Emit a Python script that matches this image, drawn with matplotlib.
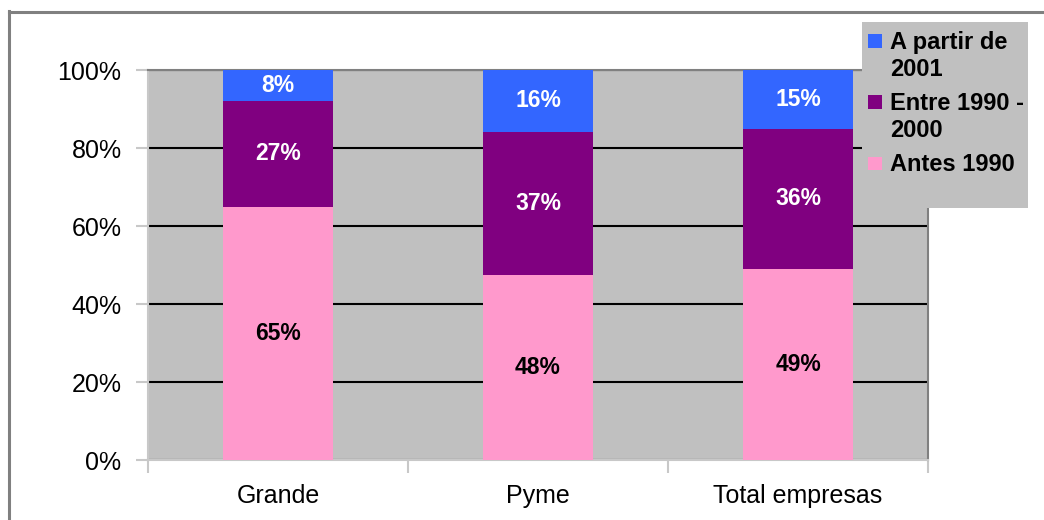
#!/usr/bin/env python
""" Antigüedad de las empresas por tamaño - barras apiladas al 100% """
import matplotlib.pyplot as plt
import numpy as np
from matplotlib.lines import Line2D
from matplotlib.patches import Rectangle

plt.rcParams["font.family"] = ["Liberation Sans", "DejaVu Sans"]

categories = ["Grande", "Pyme", "Total empresas"]
series_names = ["Antes 1990", "Entre 1990 -\n2000", "A partir de\n2001"]
antes_1990 = [65, 48, 49]
entre_1990_2000 = [27, 37, 36]
desde_2001 = [8, 16, 15]

colors = ["#FF99CC", "#800080", "#3366FF"]
label_colors = ["black", "white", "white"]
y_ticks = [0, 20, 40, 60, 80, 100]

W, H = 1044, 520


def px(x: float, y: float) -> tuple[float, float]:
    """pixel (desde arriba a la izquierda) -> coordenadas de figura"""
    return x / W, 1 - y / H


def main() -> None:
    fig = plt.figure(figsize=(W / 100, H / 100), dpi=100)
    ax = fig.add_axes([148 / W, 60 / H, 780 / W, 390 / H])
    ax.set_facecolor("#C0C0C0")

    values = np.array([antes_1990, entre_1990_2000, desde_2001], dtype=float)
    shares = values / values.sum(axis=0)  # Excel normaliza cada columna al 100%
    x = np.arange(len(categories))

    bottom = np.zeros(len(categories))
    for row, share, color, tcolor in zip(values, shares, colors, label_colors):
        ax.bar(x, share, width=0.42, bottom=bottom, color=color, zorder=3)
        for xi, b, s, v in zip(x, bottom, share, row):
            ax.text(xi, b + s / 2, f"{v:.0f}%", ha="center", va="center",
                    fontsize=16.5, fontweight="bold", color=tcolor, zorder=4)
        bottom += share

    ax.set_xlim(-0.5, len(categories) - 0.5)
    ax.set_ylim(0, 1)
    ax.set_yticks([t / 100 for t in y_ticks])
    ax.set_yticklabels([f"{t}%" for t in y_ticks], fontsize=18)
    ax.yaxis.grid(True, color="black", linewidth=1.5, zorder=1)
    ax.set_axisbelow(True)

    ax.set_xticks(x)
    ax.set_xticklabels(categories, fontsize=18)
    ax.tick_params(axis="x", length=0, pad=17)
    ax.set_xticks(np.arange(len(categories) + 1) - 0.5, minor=True)
    ax.tick_params(axis="x", which="minor", length=9, width=1.5, color="#C8C8C8")
    ax.tick_params(axis="y", length=9, width=1.5, color="#C8C8C8", pad=10)

    for side in ["left", "bottom"]:
        ax.spines[side].set_color("#C8C8C8")
        ax.spines[side].set_linewidth(1.5)
    for side in ["top", "right"]:
        ax.spines[side].set_color("#808080")
        ax.spines[side].set_linewidth(1.5)

    # leyenda dibujada a mano: el cuadro va alineado con la primera línea
    fig.add_artist(Rectangle(px(862, 208), 166 / W, 186 / H,
                             facecolor="#C0C0C0", edgecolor="none",
                             transform=fig.transFigure, zorder=4))
    y = 41
    for name, color in zip(series_names[::-1], colors[::-1]):
        fig.add_artist(Rectangle(px(868, y + 6.5), 14 / W, 13 / H,
                                 facecolor=color, edgecolor="none",
                                 transform=fig.transFigure, zorder=5))
        for line in name.split("\n"):
            fig.text(*px(890, y + 8), line, fontsize=17, fontweight="bold",
                     va="baseline", ha="left", zorder=5)
            y += 27
        y += 7

    # marco gris del gráfico original
    fig.add_artist(Line2D([9 / W, 1], [1 - 12 / H] * 2, color="#808080",
                          linewidth=2.2, transform=fig.transFigure))
    fig.add_artist(Line2D([9 / W] * 2, [0, 1 - 11 / H], color="#808080",
                          linewidth=2.2, transform=fig.transFigure))

    fig.savefig("out.png", dpi=100)


if __name__ == "__main__":
    main()
